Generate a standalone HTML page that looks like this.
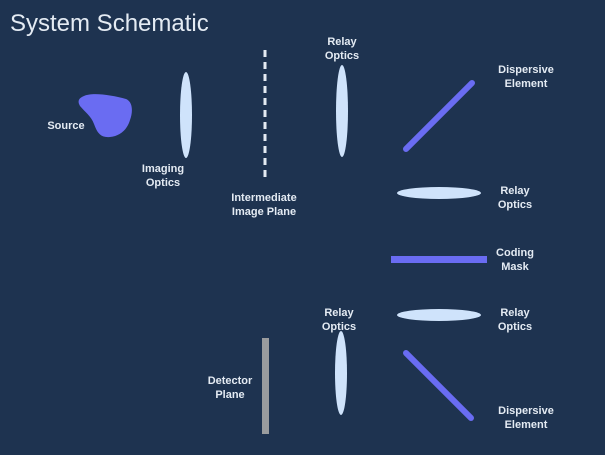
<!DOCTYPE html>
<html><head><meta charset="utf-8"><style>
html,body{margin:0;padding:0;background:#1e3350;}
svg{display:block}
text{font-family:"Liberation Sans",sans-serif;fill:#e4ebf3;}
.lbl{font-size:11px;text-anchor:middle;font-weight:600;}
</style></head><body>
<svg width="605" height="455" viewBox="0 0 605 455">
<rect width="605" height="455" fill="#1e3350"/>
<text x="10" y="31" font-size="24">System Schematic</text>

<path d="M84,96 C92,92 112,95 126,99 C133,102 133,112 130,120 C127,130 120,136 110,137 C100,138 97,132 94,124 C91,116 85,112 80,106 C77,101 79,98 84,96 Z" fill="#6a6cf2"/>
<text class="lbl" x="66" y="129">Source</text>

<ellipse cx="186" cy="115" rx="6" ry="43" fill="#cfe3fb"/>
<text class="lbl" x="163" y="172"><tspan x="163">Imaging</tspan><tspan x="163" dy="14">Optics</tspan></text>

<line x1="265" y1="50" x2="265" y2="181" stroke="#e4ebf3" stroke-width="3" stroke-dasharray="7,5"/>
<text class="lbl" x="264" y="201"><tspan x="264">Intermediate</tspan><tspan x="264" dy="14">Image Plane</tspan></text>

<ellipse cx="342" cy="111" rx="6" ry="46" fill="#cfe3fb"/>
<text class="lbl" x="342" y="45"><tspan x="342">Relay</tspan><tspan x="342" dy="14">Optics</tspan></text>

<line x1="406" y1="149" x2="472" y2="83" stroke="#6a6cf2" stroke-width="6" stroke-linecap="round"/>
<text class="lbl" x="526" y="73"><tspan x="526">Dispersive</tspan><tspan x="526" dy="14">Element</tspan></text>

<ellipse cx="439" cy="193" rx="42" ry="6" fill="#cfe3fb"/>
<text class="lbl" x="515" y="194"><tspan x="515">Relay</tspan><tspan x="515" dy="14">Optics</tspan></text>

<rect x="391" y="256" width="96" height="7" fill="#6a6cf2"/>
<text class="lbl" x="515" y="256"><tspan x="515">Coding</tspan><tspan x="515" dy="14">Mask</tspan></text>

<ellipse cx="439" cy="315" rx="42" ry="6" fill="#cfe3fb"/>
<text class="lbl" x="515" y="316"><tspan x="515">Relay</tspan><tspan x="515" dy="14">Optics</tspan></text>

<ellipse cx="341" cy="373" rx="6" ry="42" fill="#cfe3fb"/>
<text class="lbl" x="339" y="316"><tspan x="339">Relay</tspan><tspan x="339" dy="14">Optics</tspan></text>

<line x1="406" y1="353" x2="471" y2="418" stroke="#6a6cf2" stroke-width="6" stroke-linecap="round"/>
<text class="lbl" x="526" y="414"><tspan x="526">Dispersive</tspan><tspan x="526" dy="14">Element</tspan></text>

<rect x="262" y="338" width="7" height="96" fill="#9a9c9e"/>
<text class="lbl" x="230" y="384"><tspan x="230">Detector</tspan><tspan x="230" dy="14">Plane</tspan></text>
</svg>
</body></html>
